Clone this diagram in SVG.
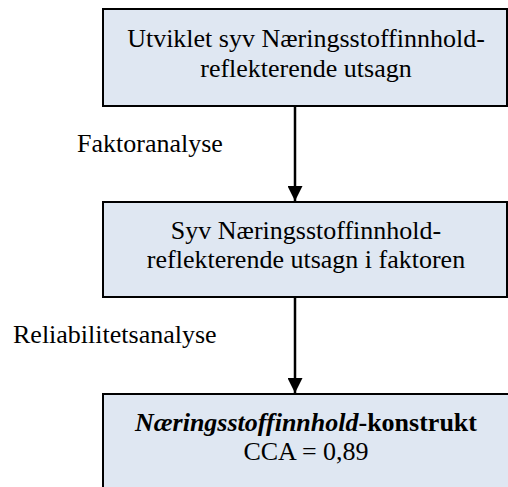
<svg xmlns="http://www.w3.org/2000/svg" width="508" height="487" viewBox="0 0 508 487">
  <style>
    .box { fill: #dfe7f2; stroke: #000; stroke-width: 2; }
    .t { font-size: 26px; fill: #000; }
    .c { text-anchor: middle; }
    .edge { stroke: #000; stroke-width: 2.5; fill: none; }
  </style>
  <defs>
    <marker id="arrow" viewBox="0 0 10 10" refX="10" refY="5" markerWidth="6" markerHeight="6" markerUnits="strokeWidth" orient="auto">
      <path d="M0,0 L10,5 L0,10 Z" fill="#000"/>
    </marker>
  </defs>

  <g font-family="'Liberation Serif', 'Times New Roman', Times, serif">
    <g id="node-utviklet">
      <rect class="box" x="103" y="9" width="404" height="97"/>
      <text class="t c" x="306" y="47">Utviklet syv Næringsstoffinnhold-</text>
      <text class="t c" x="306" y="77">reflekterende utsagn</text>
    </g>

    <g id="node-faktor">
      <rect class="box" x="103" y="202" width="404" height="95"/>
      <text class="t c" x="306" y="239">Syv Næringsstoffinnhold-</text>
      <text class="t c" x="306" y="268">reflekterende utsagn i faktoren</text>
    </g>

    <g id="node-konstrukt">
      <rect class="box" x="103" y="394" width="420" height="110"/>
      <text class="t c" x="306" y="431"><tspan font-weight="bold" font-style="italic">Næringsstoffinnhold</tspan><tspan font-weight="bold">-konstrukt</tspan></text>
      <text class="t c" x="306" y="460">CCA = 0,89</text>
    </g>

    <g id="connectors">
      <line class="edge" x1="295" y1="106" x2="295" y2="201" marker-end="url(#arrow)"/>
      <line class="edge" x1="295" y1="297" x2="295" y2="393" marker-end="url(#arrow)"/>
      <text class="t" x="77" y="152">Faktoranalyse</text>
      <text class="t" x="13" y="343">Reliabilitetsanalyse</text>
    </g>
  </g>
</svg>
